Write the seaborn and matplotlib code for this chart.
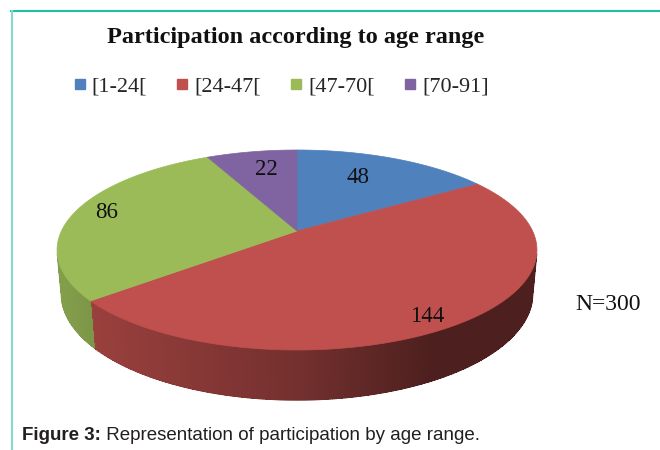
import numpy as np
import matplotlib
matplotlib.use("Agg")
import matplotlib.pyplot as plt
from matplotlib.patches import Polygon
from matplotlib.lines import Line2D
from matplotlib.collections import LineCollection
import seaborn as sns

# ---- data ----
categories = ["[1-24[", "[24-47[", "[47-70[", "[70-91]"]
values = [48, 144, 86, 22]
title = "Participation according to age range"
caption_bold = "Figure 3:"
caption_rest = " Representation of participation by age range."

# ---- style ----
sns.set_theme(style="white")
plt.rcParams['font.family'] = ['Liberation Serif', 'DejaVu Serif']
palette = sns.color_palette(["#4F81BD", "#C0504D", "#9BBB59", "#8064A2"])
label_radius = [0.53, 0.92, 0.78, 0.55]

W, H = 660, 450
fig = plt.figure(figsize=(W / 100, H / 100), dpi=100)
fig.patch.set_facecolor("white")
ax = fig.add_axes([0, 0, 1, 1])
ax.set_xlim(0, W)
ax.set_ylim(H, 0)
ax.axis("off")

# ---- 3D pie projection (perspective view of a tilted disc) ----
phi = np.deg2rad(24.15)
cphi, sphi = np.cos(phi), np.sin(phi)
Ldist, focal, depth_h = 4.803, 1131.5, 0.202
cx, cy = 297.0, 231.0


def proj(x, y, z):
    d = Ldist + y * cphi - z * sphi
    return cx + focal * x / d, cy - focal * (y * sphi + z * cphi) / d


total = float(np.sum(values))
fracs = np.array(values) / total
ends = np.cumsum(fracs) * 2 * np.pi
starts = ends - fracs * 2 * np.pi

tv = np.arccos(-1.0 / (Ldist * cphi))
vis0, vis1 = tv, 2 * np.pi - tv


def shade(xpix):
    return np.interp(xpix, [57, 92, 300, 430, 540], [0.85, 0.80, 0.60, 0.40, 0.40])


# side walls (fine strips, shaded by horizontal position)
for i, (t0, t1) in enumerate(zip(starts, ends)):
    a, b = max(t0, vis0), min(t1, vis1)
    if a >= b:
        continue
    n = max(2, int((b - a) / np.deg2rad(0.4)))
    ts = np.linspace(a, b, n + 1)
    base = np.array(palette[i])
    segs, cols = [], []
    for ta, tb in zip(ts[:-1], ts[1:]):
        p1 = proj(np.sin(ta), np.cos(ta), 0)
        p2 = proj(np.sin(tb), np.cos(tb), 0)
        p3 = proj(np.sin(tb), np.cos(tb), -depth_h)
        p4 = proj(np.sin(ta), np.cos(ta), -depth_h)
        col = np.clip(base * shade((p1[0] + p2[0]) / 2), 0, 1)
        ax.add_patch(Polygon([p1, p2, p3, p4], closed=True, facecolor=col,
                             edgecolor="none", lw=0, antialiased=False, zorder=2))
        segs.append([p4, p3])
        cols.append(col)
    ax.add_collection(LineCollection(segs, colors=cols, linewidths=0.9,
                                     capstyle="round", zorder=2.1))
    # outer vertical edges of the wall
    for t in (a, b):
        if abs(t - vis0) < 1e-9 or abs(t - vis1) < 1e-9:
            col = np.clip(base * shade(proj(np.sin(t), np.cos(t), 0)[0]), 0, 1)
            ax.plot(*zip(proj(np.sin(t), np.cos(t), 0), proj(np.sin(t), np.cos(t), -depth_h)),
                    color=col, lw=0.8, zorder=2.1)

# top faces
for i, (t0, t1) in enumerate(zip(starts, ends)):
    ts = np.linspace(t0, t1, 200)
    pts = [proj(0, 0, 0)] + [proj(np.sin(t), np.cos(t), 0) for t in ts]
    ax.add_patch(Polygon(pts, closed=True, facecolor=palette[i],
                         edgecolor=palette[i], lw=0.5, zorder=3))

# value labels
A, B = 240.0, 115.0
for i, (t0, t1) in enumerate(zip(starts, ends)):
    m = (t0 + t1) / 2
    lx = cx + label_radius[i] * A * np.sin(m)
    ly = cy - label_radius[i] * B * np.cos(m)
    if i == 2:
        lx = cx + 0.81 * A * np.sin(m)
    ax.text(lx, ly, f"{values[i]}", ha="center", va="center",
            fontsize=16.5, color="#111111", zorder=5)

ax.text(608, 305, f"N={int(total)}", ha="center", va="center",
        fontsize=17, color="#111111")

# title
ax.text(296, 37, title, ha="center", va="center", fontsize=17.5,
        fontweight="bold", color="#111111")

# legend
handles = [Line2D([], [], marker="s", linestyle="none", markersize=6.8,
                  markerfacecolor=palette[i], markeredgecolor=palette[i])
           for i in range(len(categories))]
fig.legend(handles, categories, loc="center", bbox_to_anchor=(281 / W, 1 - 86 / H),
           ncol=4, frameon=False, prop=dict(family="Liberation Serif", size=16),
           handlelength=0.6, handletextpad=0.25, columnspacing=1.28, borderpad=0)

# border lines
ax.plot([10, W], [10.5, 10.5], color="#1FBFA6", lw=1.5, solid_capstyle="butt")
ax.plot([11.5, 11.5], [10, H], color="#86D9CB", lw=1.5, solid_capstyle="butt")

# caption
t1 = ax.text(22, 440, caption_bold, ha="left", va="baseline", fontsize=13.5,
             fontweight="bold", family=["Liberation Sans", "DejaVu Sans"], color="#231F20")
ax.annotate(caption_rest, xy=(1, 0), xycoords=t1, ha="left", va="bottom",
            fontsize=13.5, family=["Liberation Sans", "DejaVu Sans"], color="#231F20")

fig.savefig("out.png", dpi=100, facecolor="white")
